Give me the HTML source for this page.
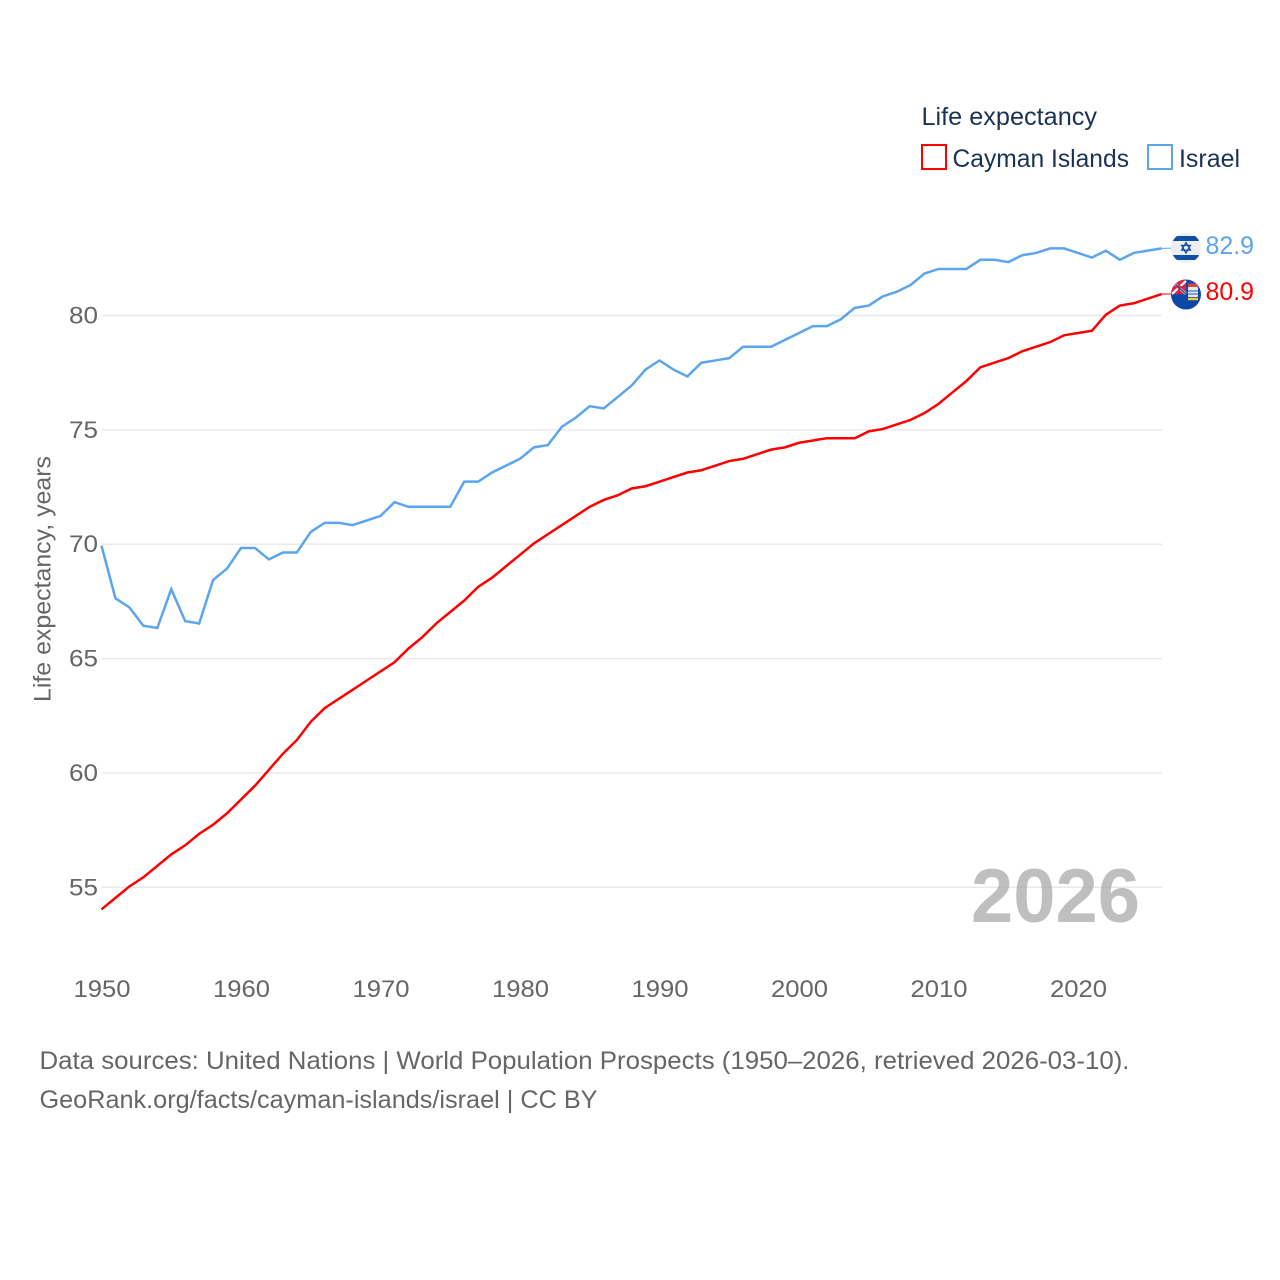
<!DOCTYPE html>
<html lang="en">
<head>
<meta charset="utf-8">
<title>Life expectancy: Cayman Islands and Israel</title>
<style>
html,body{margin:0;padding:0;background:#fff;}
svg{display:block;}
text{font-family:"Liberation Sans",sans-serif;}
</style>
</head>
<body>
<svg id="chart" xmlns="http://www.w3.org/2000/svg" width="1280" height="1280" viewBox="0 0 1280 1280">
  <rect x="0" y="0" width="1280" height="1280" fill="#fff"/>
  <defs>
    <clipPath id="flag-clip-a"><circle cx="1186" cy="248" r="15"/></clipPath>
    <clipPath id="flag-clip-b"><circle cx="1186" cy="294.5" r="15"/></clipPath>
  </defs>
  <g id="grid"></g>
  <text x="971" y="922" font-size="76" font-weight="700" fill="#aaa" fill-opacity="0.75" textLength="169" lengthAdjust="spacingAndGlyphs">2026</text>
  <g id="ylabels"></g>
  <g id="xlabels"></g>
  <text transform="translate(50.5,702) rotate(-90)" font-size="24" fill="#666" textLength="246" lengthAdjust="spacingAndGlyphs">Life expectancy, years</text>
  <g id="series"></g>

  <g clip-path="url(#flag-clip-a)">
    <rect x="1170" y="232" width="32" height="32" fill="#eeeef0"/>
    <rect x="1170" y="236" width="32" height="5" fill="#0f4fa8"/>
    <rect x="1170" y="255" width="32" height="5" fill="#0f4fa8"/>
    <path d="M1186 242.5l4.4 7.6h-8.8zM1186 253l-4.4-7.6h8.8z" fill="none" stroke="#0f4fa8" stroke-width="1.3"/>
  </g>
  <g clip-path="url(#flag-clip-b)">
    <rect x="1170" y="278" width="32" height="33" fill="#0d47a8"/>
    <rect x="1171" y="279" width="15" height="15" fill="#d9263e"/>
    <path d="M1172 281l14 13M1186 281l-14 13" stroke="#eee" stroke-width="2.4"/>
    <path d="M1172 287h14M1179 279v15" stroke="#d9263e" stroke-width="1.8"/>
    <path d="M1172 281l14 13" stroke="#334a9c" stroke-width="1.4"/>
    <rect x="1188" y="287" width="10" height="10" rx="1" fill="#e8e8e8"/>
    <rect x="1188" y="283.5" width="10" height="3.5" fill="#d9463e"/>
    <path d="M1188 291h10M1188 294h10" stroke="#3a78c8" stroke-width="1.2"/>
    <path d="M1188 299h10" stroke="#f0c832" stroke-width="2.4"/>
  </g>

  <text x="1205.5" y="254" font-size="25" fill="#5ba4ee" textLength="48.5" lengthAdjust="spacingAndGlyphs">82.9</text>
  <text x="1205.5" y="300" font-size="25" fill="#ff0000" textLength="48.5" lengthAdjust="spacingAndGlyphs">80.9</text>

  <g>
    <text x="921.5" y="125" font-size="25" fill="#1a3354" textLength="175.5" lengthAdjust="spacingAndGlyphs">Life expectancy</text>
    <rect x="922" y="145" width="24" height="24" fill="none" stroke="#ff0000" stroke-width="2"/>
    <text x="952.5" y="167" font-size="25" fill="#1a3354" textLength="176.5" lengthAdjust="spacingAndGlyphs">Cayman Islands</text>
    <rect x="1148" y="145" width="24" height="24" fill="none" stroke="#5ba4ee" stroke-width="2"/>
    <text x="1179" y="167" font-size="25" fill="#1a3354" textLength="61" lengthAdjust="spacingAndGlyphs">Israel</text>
  </g>

  <text x="39.5" y="1069" font-size="25" fill="#666" textLength="1090" lengthAdjust="spacingAndGlyphs">Data sources: United Nations | World Population Prospects (1950–2026, retrieved 2026-03-10).</text>
  <text x="39.5" y="1108" font-size="25" fill="#666" textLength="558" lengthAdjust="spacingAndGlyphs">GeoRank.org/facts/cayman-islands/israel | CC BY</text>
</svg>
<script>
const startYear = 1950;
const xTicks = [1950, 1960, 1970, 1980, 1990, 2000, 2010, 2020];
const yTicks = [55, 60, 65, 70, 75, 80];
const israelValues = [69.9,67.6,67.2,66.4,66.3,68.0,66.6,66.5,68.4,68.9,69.8,69.8,69.3,69.6,69.6,70.5,70.9,70.9,70.8,71.0,71.2,71.8,71.6,71.6,71.6,71.6,72.7,72.7,73.1,73.4,73.7,74.2,74.3,75.1,75.5,76.0,75.9,76.4,76.9,77.6,78.0,77.6,77.3,77.9,78.0,78.1,78.6,78.6,78.6,78.9,79.2,79.5,79.5,79.8,80.3,80.4,80.8,81.0,81.3,81.8,82.0,82.0,82.0,82.4,82.4,82.3,82.6,82.7,82.9,82.9,82.7,82.5,82.8,82.4,82.7,82.8,82.9];
const caymanValues = [54.0,54.5,55.0,55.4,55.9,56.4,56.8,57.3,57.7,58.2,58.8,59.4,60.1,60.8,61.4,62.2,62.8,63.2,63.6,64.0,64.4,64.8,65.4,65.9,66.5,67.0,67.5,68.1,68.5,69.0,69.5,70.0,70.4,70.8,71.2,71.6,71.9,72.1,72.4,72.5,72.7,72.9,73.1,73.2,73.4,73.6,73.7,73.9,74.1,74.2,74.4,74.5,74.6,74.6,74.6,74.9,75.0,75.2,75.4,75.7,76.1,76.6,77.1,77.7,77.9,78.1,78.4,78.6,78.8,79.1,79.2,79.3,80.0,80.4,80.5,80.7,80.9];

const NS = 'http://www.w3.org/2000/svg';
const xScale = function (year) { return 101.5 + (year - 1950) * 13.95; };
const yScale = function (value) { return 315.5 + (80 - value) * 22.87; };

const grid = document.getElementById('grid');
const ylabels = document.getElementById('ylabels');
const xlabels = document.getElementById('xlabels');
const seriesGroup = document.getElementById('series');

yTicks.forEach(function (tick) {
  const line = document.createElementNS(NS, 'line');
  
  
  line.setAttribute('x1', 101.5);
  line.setAttribute('x2', 1162);
  line.setAttribute('y1', yScale(tick));
  line.setAttribute('y2', yScale(tick));
  line.setAttribute('stroke', '#e8e8e8');
  line.setAttribute('stroke-width', 1.4);
  grid.appendChild(line);

  const label = document.createElementNS(NS, 'text');
  
  
  label.setAttribute('x', 98);
  label.setAttribute('y', yScale(tick) + 8);
  label.setAttribute('text-anchor', 'end');
  label.setAttribute('font-size', 24);
  label.setAttribute('fill', '#666');
  label.setAttribute('textLength', 29);
  label.setAttribute('lengthAdjust', 'spacingAndGlyphs');
  label.textContent = tick;
  ylabels.appendChild(label);
});

xTicks.forEach(function (tick) {
  const label = document.createElementNS(NS, 'text');
  
  
  label.setAttribute('x', xScale(tick) - 28);
  label.setAttribute('y', 997);
  label.setAttribute('font-size', 24);
  label.setAttribute('fill', '#666');
  label.setAttribute('textLength', 57);
  label.setAttribute('lengthAdjust', 'spacingAndGlyphs');
  label.textContent = tick;
  xlabels.appendChild(label);
});

function linePoints(values) {
  return values.map(function (value, i) {
    return xScale(startYear + i).toFixed(2) + ',' + (yScale(value) - 0.8).toFixed(2);
  }).join(' ');
}

function drawConnector(values, color) {
  const last = values[values.length - 1];
  const connector = document.createElementNS(NS, 'line');
  
  
  connector.setAttribute('x1', xScale(startYear + values.length - 1));
  connector.setAttribute('x2', 1172);
  connector.setAttribute('y1', yScale(last) - 0.8);
  connector.setAttribute('y2', yScale(last) - 1);
  connector.setAttribute('stroke', color);
  connector.setAttribute('stroke-width', 1);
  seriesGroup.appendChild(connector);
}

const israelLine = document.createElementNS(NS, 'polyline');


israelLine.setAttribute('points', linePoints(israelValues));
israelLine.setAttribute('fill', 'none');
israelLine.setAttribute('stroke', '#5ba4ee');
israelLine.setAttribute('stroke-width', 2.5);
seriesGroup.appendChild(israelLine);
drawConnector(israelValues, '#5ba4ee');

const caymanLine = document.createElementNS(NS, 'polyline');


caymanLine.setAttribute('points', linePoints(caymanValues));
caymanLine.setAttribute('fill', 'none');
caymanLine.setAttribute('stroke', '#ff0000');
caymanLine.setAttribute('stroke-width', 2.5);
seriesGroup.appendChild(caymanLine);
drawConnector(caymanValues, '#ff0000');
</script>
</body>
</html>
